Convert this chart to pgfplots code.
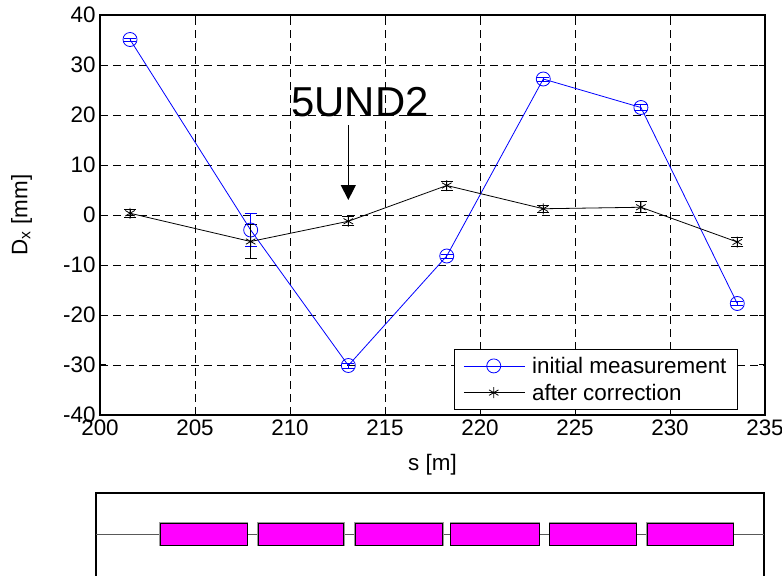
\documentclass[border=0pt]{standalone}
\usepackage{fontspec}
\setmainfont{Liberation Sans}
\usepackage{pgfplots}
\usepackage{pgfplotstable}
\pgfplotsset{compat=1.18}
\usetikzlibrary{arrows.meta}
\definecolor{mag}{RGB}{255,0,255}

\pgfplotstableread{
x       y      e
201.58  35.1   0.3
207.93  -3.0   3.3
213.07  -30.1  0.5
218.25  -8.2   0.4
223.33  27.2   0.4
228.47  21.5   0.6
233.54  -17.7  0.4
}\initial

\pgfplotstableread{
x       y      e
201.58  0.35   0.8
207.93  -5.3   3.45
213.07  -1.25  0.9
218.25  5.9    0.9
223.33  1.25   0.7
228.47  1.55   1.1
233.54  -5.4   0.9
}\after

\begin{document}
\begin{tikzpicture}
\path[use as bounding box] (0bp,0bp) rectangle (782bp,576bp);
\clip (0bp,0bp) rectangle (782bp,576bp);
\begin{axis}[
  at={(100bp,161bp)}, anchor=south west,
  scale only axis, width=665bp, height=400bp,
  xmin=200, xmax=235, ymin=-40, ymax=40,
  xtick={200,205,...,235}, ytick={-40,-30,...,40},
  tick align=inside, tick pos=both, major tick length=6bp,
  axis line style={line width=1.2bp},
  every tick/.style={black, line width=1bp},
  grid=major,
  major grid style={black, line width=0.7bp, dash pattern=on 8bp off 5bp},
  /pgf/number format/assume math mode=true,
  ticklabel style={font=\fontsize{22.5}{26}\selectfont},
  xticklabel style={yshift=-1bp},
  yticklabel style={xshift=-1bp},
  label style={font=\fontsize{22.5}{26}\selectfont},
  xlabel={s [m]}, ylabel={D\textsubscript{x} [mm]},
  xlabel style={at={(axis description cs:0.5,-0.125)}, anchor=center},
  ylabel style={at={(axis description cs:-0.118,0.5)}, anchor=center},
  legend style={at={(axis description cs:0.9594,0.0125)}, anchor=south east,
    font=\fontsize{22.5}{26}\selectfont, draw=black, line width=1bp,
    inner xsep=9bp, inner ysep=6bp, row sep=5bp,
    /tikz/every odd column/.append style={column sep=5bp}},
  legend cell align=left,
  legend image code/.code={\draw[#1, mark repeat=2, mark phase=2] plot coordinates {(0bp,0bp) (30bp,0bp) (61bp,0bp)};},
]
\addplot[blue, line width=0.8bp, mark=o, mark size=7bp, mark options={solid, line width=0.8bp},
  error bars/.cd, y dir=both, y explicit,
  error bar style={line width=0.9bp},
  error mark options={rotate=90, mark size=6bp, line width=0.9bp}]
  table[x=x, y=y, y error=e] {\initial};
\addlegendentry{initial measurement}
\addplot[black, line width=0.8bp, mark=asterisk, mark size=5.5bp, mark options={solid, line width=0.8bp},
  error bars/.cd, y dir=both, y explicit,
  error bar style={line width=0.9bp},
  error mark options={rotate=90, mark size=6bp, line width=0.9bp}]
  table[x=x, y=y, y error=e] {\after};
\addlegendentry{after correction}
\node[anchor=base, font=\fontsize{42}{46}\selectfont, inner sep=0pt] at (axis cs:213.68,19.7) {5UND2};
\draw[line width=1.2bp, -{Triangle[width=15bp,length=15bp]}] (axis cs:213.07,18) -- (axis cs:213.07,3);
\end{axis}

\begin{axis}[
  at={(96bp,-2bp)}, anchor=south west,
  scale only axis, width=668bp, height=85bp,
  xmin=199.79, xmax=234.95, ymin=-4, ymax=3.727,
  xtick=\empty, ytick=\empty,
  axis line style={line width=1.3bp},
]
\addplot[black!65, line width=0.9bp] coordinates {(199.79,0) (234.95,0)};
\addplot[fill=mag, draw=black, line width=0.9bp, preaction={draw=black!40, line width=2.6bp}] coordinates {(203.18,-1) (207.74,-1) (207.74,1) (203.18,1)} -- cycle;
\addplot[fill=mag, draw=black, line width=0.9bp, preaction={draw=black!40, line width=2.6bp}] coordinates {(208.32,-1) (212.84,-1) (212.84,1) (208.32,1)} -- cycle;
\addplot[fill=mag, draw=black, line width=0.9bp, preaction={draw=black!40, line width=2.6bp}] coordinates {(213.42,-1) (218.05,-1) (218.05,1) (213.42,1)} -- cycle;
\addplot[fill=mag, draw=black, line width=0.9bp, preaction={draw=black!40, line width=2.6bp}] coordinates {(218.47,-1) (223.11,-1) (223.11,1) (218.47,1)} -- cycle;
\addplot[fill=mag, draw=black, line width=0.9bp, preaction={draw=black!40, line width=2.6bp}] coordinates {(223.68,-1) (228.21,-1) (228.21,1) (223.68,1)} -- cycle;
\addplot[fill=mag, draw=black, line width=0.9bp, preaction={draw=black!40, line width=2.6bp}] coordinates {(228.79,-1) (233.32,-1) (233.32,1) (228.79,1)} -- cycle;
\end{axis}
\end{tikzpicture}
\end{document}
